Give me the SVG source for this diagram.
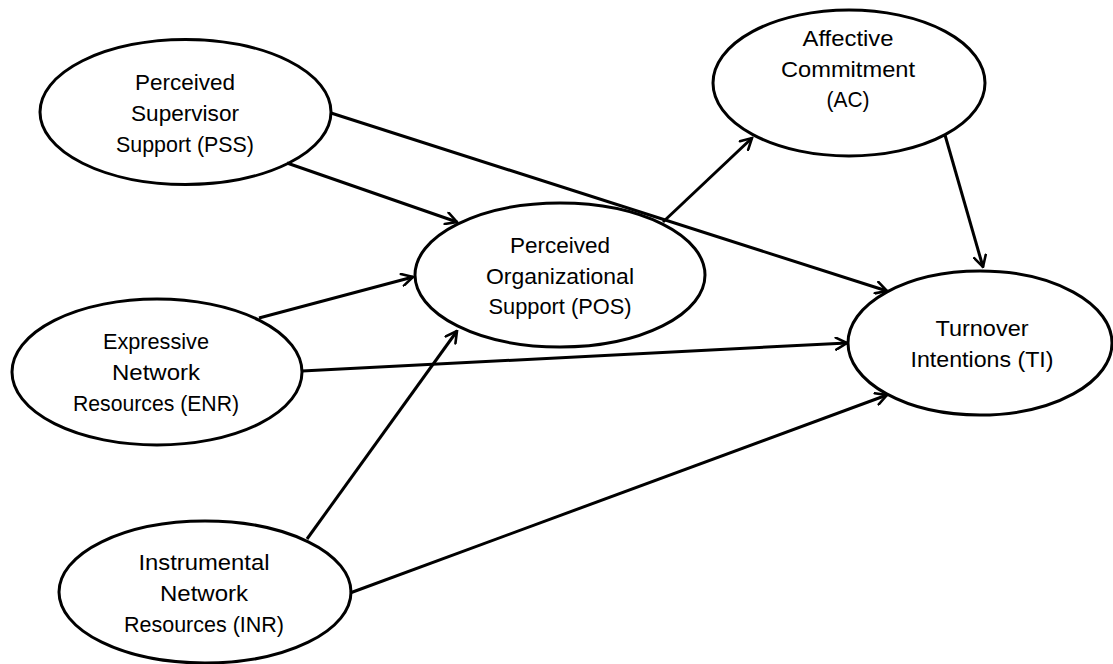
<svg xmlns="http://www.w3.org/2000/svg" width="1113" height="664" viewBox="0 0 1113 664">
<style>
  .node ellipse { fill: #ffffff; stroke: #000000; stroke-width: 3; }
  .node text { font-family: "Liberation Sans", Arial, sans-serif; font-size: 22px; fill: #000000; text-anchor: middle; }
  .edge { stroke: #000000; stroke-width: 3; fill: none; marker-end: url(#arrow); }
</style>
<defs>
  <marker id="arrow" viewBox="0 0 14 14" refX="12.5" refY="7" markerWidth="14" markerHeight="14" markerUnits="userSpaceOnUse" orient="auto">
    <path d="M1.5,1 L12.5,7 L1.5,13" fill="none" stroke="#000000" stroke-width="2.6" stroke-linejoin="miter" stroke-linecap="round"/>
  </marker>
</defs>
<rect x="0" y="0" width="1113" height="664" fill="#ffffff"/>

<g id="PSS" class="node">
  <ellipse cx="185.5" cy="112" rx="145.5" ry="72.5"/>
  <text x="185" y="90" textLength="100" lengthAdjust="spacingAndGlyphs">Perceived</text>
  <text x="185" y="121" textLength="108" lengthAdjust="spacingAndGlyphs">Supervisor</text>
  <text x="185" y="151.5" textLength="138" lengthAdjust="spacingAndGlyphs">Support (PSS)</text>
</g>
<g id="ENR" class="node">
  <ellipse cx="157" cy="372" rx="145" ry="73"/>
  <text x="156" y="349" textLength="106" lengthAdjust="spacingAndGlyphs">Expressive</text>
  <text x="156" y="380" textLength="88" lengthAdjust="spacingAndGlyphs">Network</text>
  <text x="156" y="411" textLength="166" lengthAdjust="spacingAndGlyphs">Resources (ENR)</text>
</g>
<g id="INR" class="node">
  <ellipse cx="205" cy="592" rx="146" ry="71"/>
  <text x="204" y="570" textLength="131" lengthAdjust="spacingAndGlyphs">Instrumental</text>
  <text x="204" y="601" textLength="88" lengthAdjust="spacingAndGlyphs">Network</text>
  <text x="204" y="632" textLength="160" lengthAdjust="spacingAndGlyphs">Resources (INR)</text>
</g>
<g id="POS" class="node">
  <ellipse cx="560" cy="275" rx="145" ry="72"/>
  <text x="560" y="253" textLength="100" lengthAdjust="spacingAndGlyphs">Perceived</text>
  <text x="560" y="284" textLength="148" lengthAdjust="spacingAndGlyphs">Organizational</text>
  <text x="560" y="314" textLength="143" lengthAdjust="spacingAndGlyphs">Support (POS)</text>
</g>
<g id="AC" class="node">
  <ellipse cx="849" cy="83" rx="136" ry="73"/>
  <text x="848" y="46" textLength="91" lengthAdjust="spacingAndGlyphs">Affective</text>
  <text x="848" y="77" textLength="134" lengthAdjust="spacingAndGlyphs">Commitment</text>
  <text x="848" y="107" textLength="43" lengthAdjust="spacingAndGlyphs">(AC)</text>
</g>
<g id="TI" class="node">
  <ellipse cx="980" cy="343" rx="132" ry="72"/>
  <text x="982" y="336" textLength="93" lengthAdjust="spacingAndGlyphs">Turnover</text>
  <text x="982" y="367" textLength="143" lengthAdjust="spacingAndGlyphs">Intentions (TI)</text>
</g>

<g id="connectors">
  <line class="edge" x1="287" y1="163" x2="457" y2="222"/>
  <line class="edge" x1="331" y1="113" x2="887" y2="291"/>
  <line class="edge" x1="259" y1="318" x2="413" y2="277"/>
  <line class="edge" x1="302" y1="371" x2="847" y2="343"/>
  <line class="edge" x1="307" y1="539" x2="457" y2="331"/>
  <line class="edge" x1="350" y1="593" x2="887" y2="395"/>
  <line class="edge" x1="663" y1="222" x2="752" y2="138"/>
  <line class="edge" x1="945" y1="135" x2="983" y2="267"/>
</g>
</svg>
